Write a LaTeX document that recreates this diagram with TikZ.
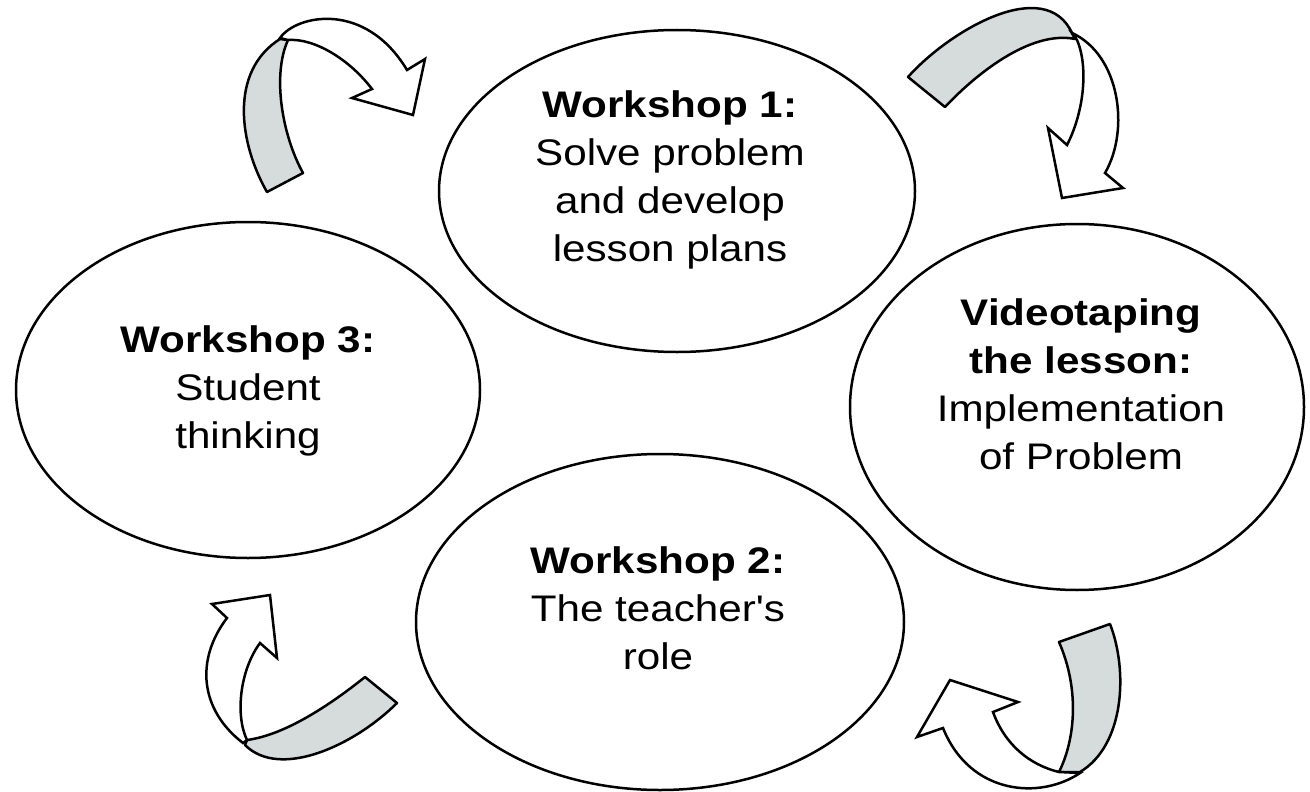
\documentclass[tikz,border=0pt]{standalone}
\usepackage{fontspec}
\setmainfont{Liberation Sans}[FakeStretch=1.14, Ligatures=TeXOff]
\usetikzlibrary{shapes.geometric}
\definecolor{bandgray}{HTML}{D6DBDC}
\begin{document}
\begin{tikzpicture}[x=1pt,y=-1pt,
  stage/.style={draw, line width=2.5pt, ellipse, inner sep=0pt, outer sep=0pt},
  stagetext/.style={anchor=north, align=center, inner sep=0pt, font=\fontsize{37}{48}\selectfont},
  backband/.style={draw, line width=2.5pt, fill=bandgray, line join=round},
  frontband/.style={draw, line width=2.5pt, fill=white, line join=miter}]
\useasboundingbox[fill=white] (0,0) rectangle (1310,792);

% stages
\node[stage, minimum width=476pt, minimum height=322pt] (e1) at (677,191) {};
\node[stage, minimum width=454pt, minimum height=366pt] (ev) at (1077,407) {};
\node[stage, minimum width=488pt, minimum height=336pt] (e2) at (660,622) {};
\node[stage, minimum width=464pt, minimum height=336pt] (e3) at (248,390) {};

\node[stagetext] (t1) at (670,90) {\textbf{Workshop 1:}\\Solve problem\\and develop\\lesson plans};
\node[stagetext] (tv) at (1081,298) {\textbf{Videotaping}\\\textbf{the lesson:}\\Implementation\\of Problem};
\node[stagetext] (t2) at (658,546) {\textbf{Workshop 2:}\\The teacher's\\role};
\node[stagetext] (t3) at (248,325) {\textbf{Workshop 3:}\\Student\\thinking};

% arrow A (top left)
\draw[backband] (267,192) .. controls (240,145) and (228,72) .. (280,39)
  -- (288,40) .. controls (272,75) and (282,135) .. (303,173) -- cycle;
\draw[frontband] (280,38) .. controls (296,15) and (365,0) .. (407,70)
  -- (425,59) -- (413,115) -- (352,98) -- (372,89)
  .. controls (350,60) and (315,38) .. (288,40) -- cycle;

% arrow B (top right)
\draw[backband] (908,77) -- (945,107) .. controls (975,75) and (1030,30) .. (1075,39)
  -- (1072,33) .. controls (1045,-25) and (950,30) .. (908,77) -- cycle;
\draw[frontband] (1072,33) .. controls (1120,55) and (1130,130) .. (1105,173)
  -- (1123,188) -- (1062,198) -- (1048,128) -- (1067,145)
  .. controls (1085,110) and (1088,65) .. (1077,40) -- cycle;

% arrow D (bottom right)
\draw[backband] (1059,642) -- (1110,624) .. controls (1128,670) and (1125,745) .. (1080,772)
  -- (1059,772) .. controls (1075,740) and (1080,690) .. (1059,642) -- cycle;
\draw[frontband] (1080,773) .. controls (1040,800) and (970,795) .. (943,728)
  -- (917,737) -- (950,680) -- (1018,702) -- (993,712)
  .. controls (1005,745) and (1030,765) .. (1059,772) -- cycle;

% arrow C (bottom left)
\draw[backband] (365,677) -- (397,703) .. controls (355,745) and (280,780) .. (245,745)
  -- (247,740) .. controls (285,735) and (330,705) .. (365,677) -- cycle;
\draw[frontband] (243,743) .. controls (200,710) and (195,660) .. (227,618)
  -- (212,604) -- (270,595) -- (277,658) -- (260,643)
  .. controls (240,670) and (235,715) .. (247,740) -- cycle;
\end{tikzpicture}
\end{document}
